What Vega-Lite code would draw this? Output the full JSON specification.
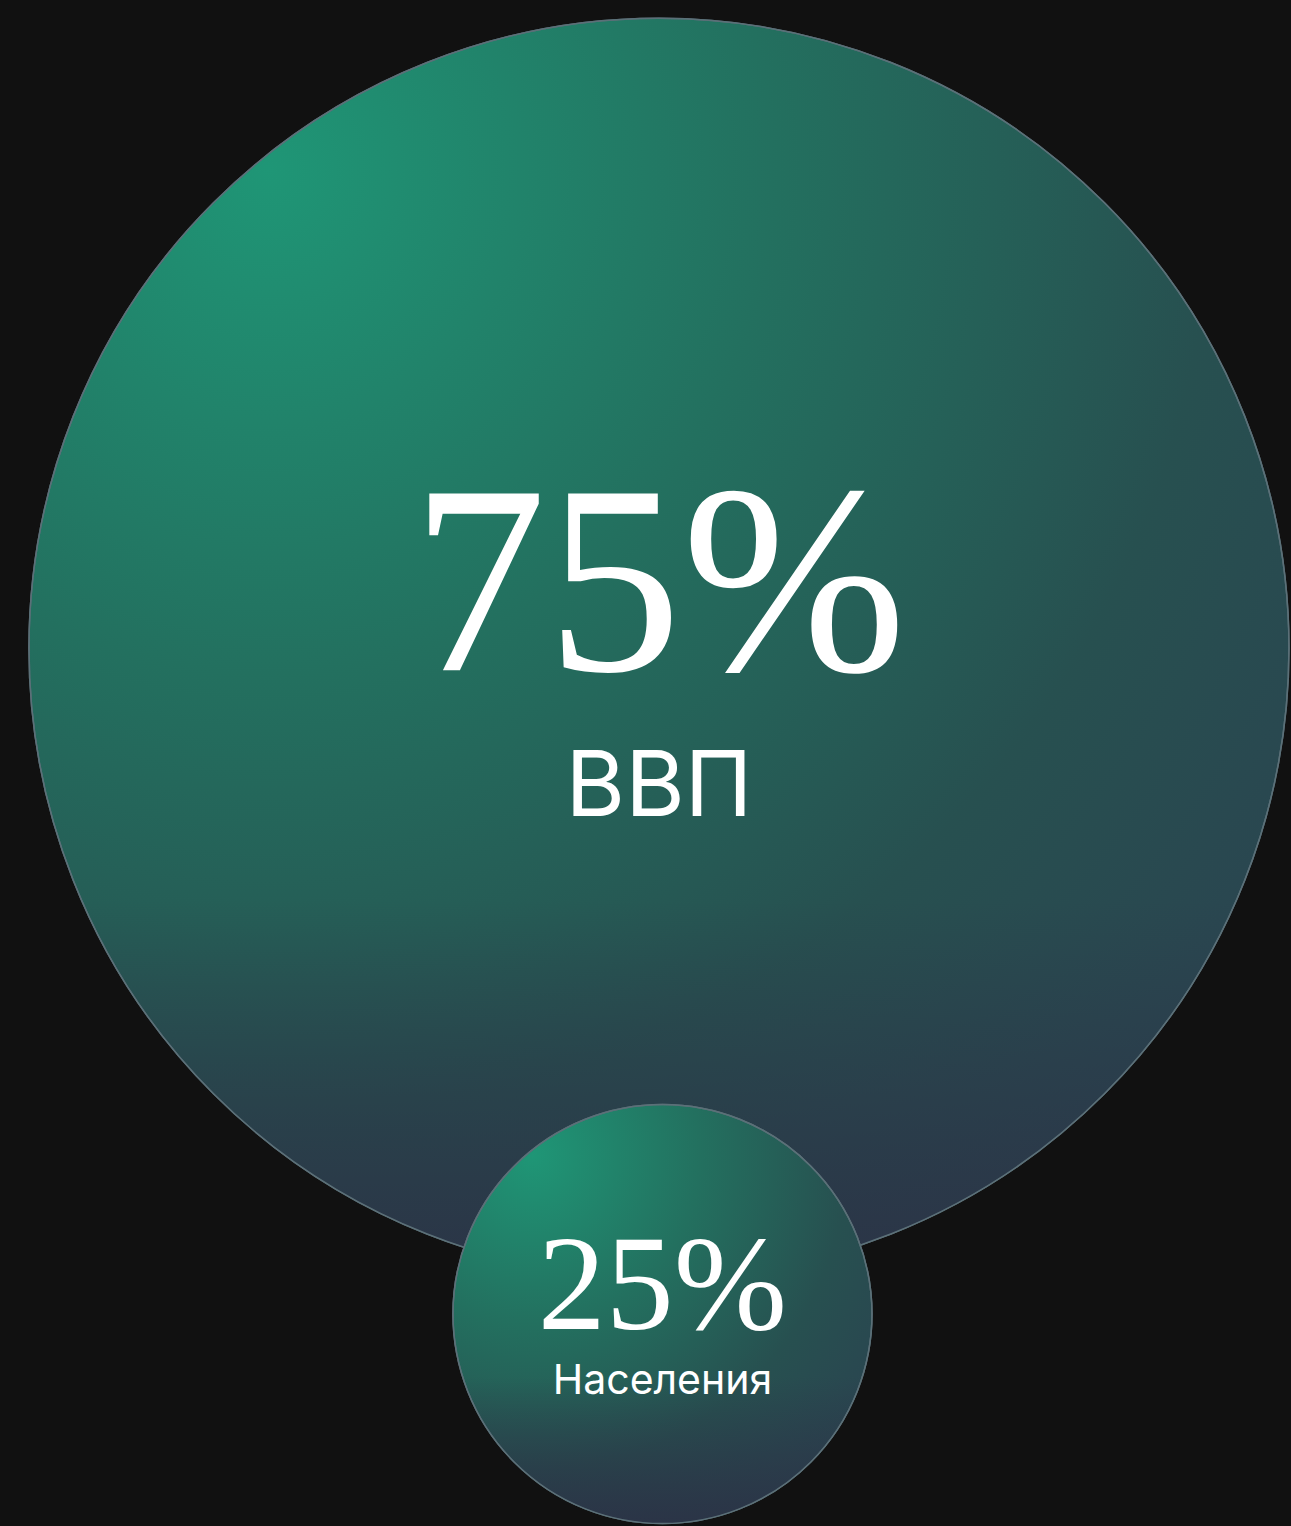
{
  "$schema": "https://vega.github.io/schema/vega-lite/v6.json",
  "width": 1291,
  "height": 1526,
  "padding": 0,
  "autosize": {"type": "fit", "contains": "padding"},
  "background": "#111111",
  "config": {"view": {"stroke": null}},
  "data": {"values": [
    {"name": "ВВП", "value": 75, "label": "75%", "cx": 660, "cy": 650},
    {"name": "Населения", "value": 25, "label": "25%", "cx": 663.5, "cy": 1317.5}
  ]},
  "encoding": {
    "x": {"field": "cx", "type": "quantitative", "scale": {"domain": [0, 1291]}, "axis": null},
    "y": {"field": "cy", "type": "quantitative", "scale": {"domain": [0, 1526], "reverse": true}, "axis": null}
  },
  "layer": [
    {
      "transform": [{"filter": "datum.value == 75"}],
      "mark": {
        "type": "point", "shape": "circle", "filled": true, "opacity": 1,
        "fill": {"gradient": "radial", "x1": 0.19, "y1": 0.12, "r1": 0, "x2": 0.19, "y2": 0.12, "r2": 1.0,
          "stops": [
            {"offset": 0, "color": "#1f9676"},
            {"offset": 0.4, "color": "#23705f"},
            {"offset": 0.75, "color": "#275050"},
            {"offset": 1, "color": "#2a4550"}
          ]},
        "stroke": "#5b7078", "strokeWidth": 1.5
      },
      "encoding": {
        "size": {"field": "value", "type": "quantitative", "legend": null,
          "scale": {"type": "linear", "domain": [25, 75], "range": [175561, 1587600]}}
      }
    },
    {
      "transform": [{"filter": "datum.value == 75"}],
      "mark": {
        "type": "point", "shape": "circle", "filled": true, "opacity": 1,
        "fill": {"gradient": "linear", "x1": 0, "y1": 0, "x2": 0, "y2": 1,
          "stops": [
            {"offset": 0, "color": "rgba(43,52,70,0)"},
            {"offset": 0.7, "color": "rgba(43,52,70,0)"},
            {"offset": 1, "color": "rgba(43,51,70,0.95)"}
          ]},
        "stroke": "#5b7078", "strokeWidth": 1.5
      },
      "encoding": {
        "size": {"field": "value", "type": "quantitative", "legend": null,
          "scale": {"type": "linear", "domain": [25, 75], "range": [175561, 1587600]}}
      }
    },
    {
      "transform": [{"filter": "datum.value == 25"}],
      "mark": {
        "type": "point", "shape": "circle", "filled": true, "opacity": 1,
        "fill": {"gradient": "radial", "x1": 0.19, "y1": 0.12, "r1": 0, "x2": 0.19, "y2": 0.12, "r2": 1.0,
          "stops": [
            {"offset": 0, "color": "#1f9676"},
            {"offset": 0.4, "color": "#23705f"},
            {"offset": 0.75, "color": "#275050"},
            {"offset": 1, "color": "#2a4550"}
          ]},
        "stroke": "#5b7078", "strokeWidth": 1.5
      },
      "encoding": {
        "size": {"field": "value", "type": "quantitative", "legend": null,
          "scale": {"type": "linear", "domain": [25, 75], "range": [175561, 1587600]}}
      }
    },
    {
      "transform": [{"filter": "datum.value == 25"}],
      "mark": {
        "type": "point", "shape": "circle", "filled": true, "opacity": 1,
        "fill": {"gradient": "linear", "x1": 0, "y1": 0, "x2": 0, "y2": 1,
          "stops": [
            {"offset": 0, "color": "rgba(43,52,70,0)"},
            {"offset": 0.65, "color": "rgba(43,52,70,0)"},
            {"offset": 1, "color": "rgba(43,51,70,0.95)"}
          ]},
        "stroke": "#5b7078", "strokeWidth": 1.5
      },
      "encoding": {
        "size": {"field": "value", "type": "quantitative", "legend": null,
          "scale": {"type": "linear", "domain": [25, 75], "range": [175561, 1587600]}}
      }
    },
    {
      "transform": [{"filter": "datum.value == 75"}],
      "mark": {"type": "text", "font": "Liberation Serif", "fontSize": 270, "color": "#ffffff", "align": "center", "baseline": "alphabetic", "dy": 22},
      "encoding": {"text": {"field": "label"}}
    },
    {
      "transform": [{"filter": "datum.value == 75"}],
      "mark": {"type": "text", "font": "Inter", "fontSize": 91, "color": "#ffffff", "align": "center", "baseline": "alphabetic", "dy": 168},
      "encoding": {"text": {"field": "name"}}
    },
    {
      "transform": [{"filter": "datum.value == 25"}],
      "mark": {"type": "text", "font": "Liberation Serif", "fontSize": 136, "color": "#ffffff", "align": "center", "baseline": "alphabetic", "dy": 14.5},
      "encoding": {"text": {"field": "label"}}
    },
    {
      "transform": [{"filter": "datum.value == 25"}],
      "mark": {"type": "text", "font": "Inter", "fontSize": 41, "color": "#ffffff", "align": "center", "baseline": "alphabetic", "dy": 80},
      "encoding": {"text": {"field": "name"}}
    }
  ]
}
